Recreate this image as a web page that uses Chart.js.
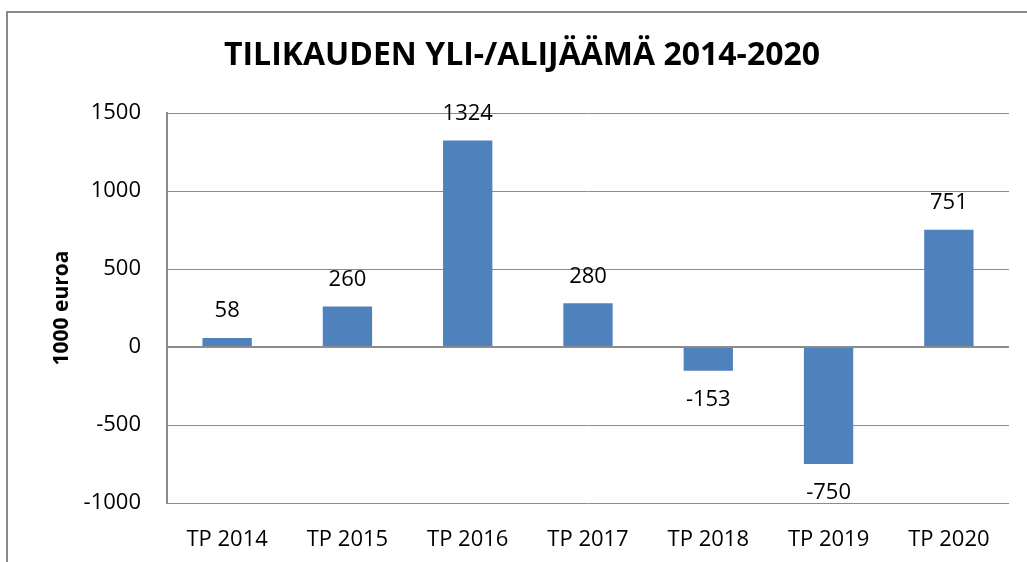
<!DOCTYPE html>
<html><head><meta charset="utf-8">
<script src="https://cdn.jsdelivr.net/npm/chart.js@4/dist/chart.umd.min.js"></script>
<style>html,body{margin:0;padding:0;background:#fff}#wrap{width:1027px;height:562px}</style>
</head><body><div id="wrap"><canvas id="c"></canvas></div>
<script>
const categories = ["TP 2014","TP 2015","TP 2016","TP 2017","TP 2018","TP 2019","TP 2020"];
const values = [58, 260, 1324, 280, -153, -750, 751];
const yTicks = [-1000, -500, 0, 500, 1000, 1500];
const chartTitle = "TILIKAUDEN YLI-/ALIJÄÄMÄ 2014-2020";
const yTitle = "1000 euroa";

const FONT = "'Open Sans', sans-serif";

const frame = {
  id: 'frame',
  afterDraw(chart) {
    const ctx = chart.ctx;
    ctx.save();
    ctx.strokeStyle = '#8a8a8a';
    ctx.lineWidth = 2;
    ctx.beginPath();
    ctx.moveTo(7, 600); ctx.lineTo(7, 12); ctx.lineTo(1100, 12);
    ctx.stroke();
    ctx.restore();
  }
};

const labels = {
  id: 'labels',
  afterDatasetsDraw(chart) {
    const ctx = chart.ctx;
    const meta = chart.getDatasetMeta(0);
    ctx.save();
    ctx.font = "22px " + FONT;
    ctx.fillStyle = '#000';
    ctx.textAlign = 'center';
    ctx.textBaseline = 'middle';
    meta.data.forEach((bar, i) => {
      const v = values[i];
      const y = v >= 0 ? bar.y - 27 : bar.y + 29;
      ctx.fillText(String(v), bar.x, y);
    });
    ctx.restore();
  }
};

new Chart(document.getElementById('c'), {
  type: 'bar',
  data: {
    labels: categories,
    datasets: [{
      data: values,
      backgroundColor: '#4F81BD',
      borderWidth: 0,
      categoryPercentage: 1,
      barPercentage: 0.41
    }]
  },
  options: {
    responsive: true,
    maintainAspectRatio: false,
    animation: false,
    layout: { padding: { left: 35, right: 18, top: 0, bottom: 0 } },
    plugins: {
      legend: { display: false },
      tooltip: { enabled: false },
      title: {
        display: true,
        text: chartTitle,
        color: '#000',
        font: { family: FONT, size: 32, weight: 'bold', lineHeight: 1.2 },
        padding: { top: 37, bottom: 37.6 }
      }
    },
    scales: {
      x: {
        grid: { display: false, drawTicks: false },
        border: { display: false },
        ticks: { color: '#000', font: { family: FONT, size: 22 }, padding: 24, maxRotation: 0 },
        afterFit(s) { s.height = 59; }
      },
      y: {
        min: -1000, max: 1500,
        afterBuildTicks(s) { s.ticks = yTicks.map(v => ({ value: v })); },
        grid: {
          color: '#8c8c8c',
          lineWidth: ctx => (ctx.tick && ctx.tick.value === 0) ? 2 : 1,
          drawTicks: false
        },
        border: { display: true, color: '#8c8c8c', width: 2 },
        ticks: { color: '#000', font: { family: FONT, size: 22 }, padding: 26, callback: v => String(v) },
        title: {
          display: true, text: yTitle, color: '#000',
          font: { family: FONT, size: 21, weight: 'bold', lineHeight: 1.2 },
          padding: { top: 14, bottom: 0 }
        },
        afterFit(s) { s.width = 132; }
      }
    }
  },
  plugins: [frame, labels]
});
</script>
</body></html>
